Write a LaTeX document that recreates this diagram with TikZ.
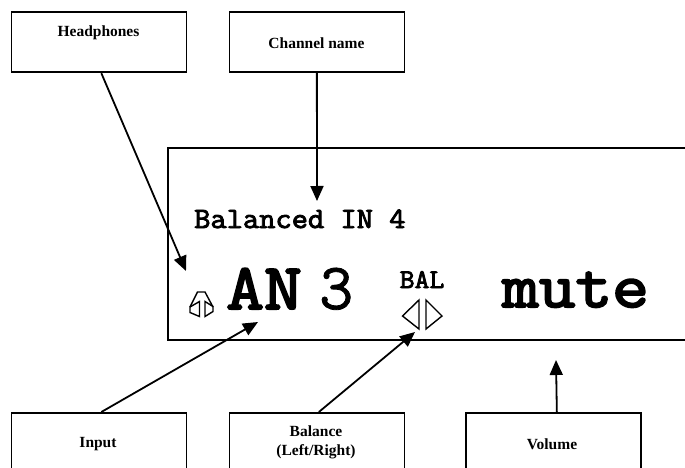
\documentclass[tikz,border=0pt]{standalone}
\usepackage{fontspec}
\setmainfont{Liberation Serif}
\newfontfamily\lcdbold[FakeBold=3.2,FakeStretch=1.13]{Latin Modern Mono}
\newfontfamily\lcdsmall[FakeBold=3,FakeStretch=1.07]{Latin Modern Mono}
\newfontfamily\lcdmid[FakeBold=1.2]{Latin Modern Mono}
\usetikzlibrary{arrows.meta}
\tikzset{
  box/.style={draw=black,line width=1.7pt,fill=white,inner sep=0pt,anchor=north west,minimum width=175pt,minimum height=60.5pt},
  lab/.style={font=\fontsize{15.5}{19.3}\selectfont\bfseries,align=center,inner sep=0pt},
  arr/.style={draw=black,line width=1.8pt,-{Triangle[length=15pt,width=13pt]}},
  lcd/.style={inner sep=0pt,anchor=base west},
  outl/.style={draw=black,line width=1.4pt,line join=miter},
}
\begin{document}
\begin{tikzpicture}[x=1pt,y=-1pt]
\useasboundingbox (0,0) rectangle (685,468);
\fill[white] (0,0) rectangle (685,468);
% display
\draw[line width=1.8pt] (700,148) -- (168,148) -- (168,340) -- (700,340);
% boxes
\node[box] (hp) at (10.5,11) {};
\node[box] (ch) at (228.5,11) {};
\node[box] (in) at (10.5,412) {};
\node[box] (ba) at (228.5,412) {};
\node[box] (vo) at (465,412) {};
\node[lab] (hpt) at (98.5,33) {Headphones};
\node[lab] (cht) at (316.5,43) {Channel name};
\node[lab] (int) at (98,444) {Input};
\node[lab] (bat) at (316,442.5) {Balance\\(Left/Right)};
\node[lab] (vot) at (552,444) {Volume};
% display text
\node[lcd,font=\fontsize{29.5}{30}\lcdsmall] (t1) at (194,228) {Balanced IN 4};
\node[lcd,font=\fontsize{65}{65}\lcdbold] (t2) at (226,309) {AN};
\node[lcd,font=\fontsize{66}{66}\lcdmid] (t3) at (319,309) {3};
\node[lcd,font=\fontsize{27}{27}\lcdsmall] (t4) at (399.5,288) {BAL};
\node[lcd,font=\fontsize{63}{63}\lcdbold] (t5) at (502,307) {mute};
% balance triangles
\draw[outl] (419,300) -- (402.5,316) -- (419,329) -- cycle;
\draw[outl] (426,300) -- (442,316) -- (426,329) -- cycle;
% headphones icon
\draw[outl] (190,307) -- (197.5,292) -- (205,292) -- (213,307);
\draw[outl] (199.5,301.5) -- (190,307) -- (190,312.5) -- (199.5,316.5) -- cycle;
\draw[outl] (205,301.5) -- (213,306.5) -- (213,311.5) -- (205,316.5) -- cycle;
% targets
\coordinate (hpTip) at (186,271);
\coordinate (chTip) at (317,201);
\coordinate (inTip) at (258,322);
\coordinate (baTip) at (415,332);
\coordinate (voTip) at (556,360);
\draw[arr] ([xshift=2.5pt]hp.south) -- (hpTip);
\draw[arr] (ch.south) -- (chTip);
\draw[arr] ([xshift=2.5pt]in.north) -- (inTip);
\draw[arr] ([xshift=2pt]ba.north) -- (baTip);
\draw[arr] ([xshift=3.5pt]vo.north) -- (voTip);
\end{tikzpicture}
\end{document}
